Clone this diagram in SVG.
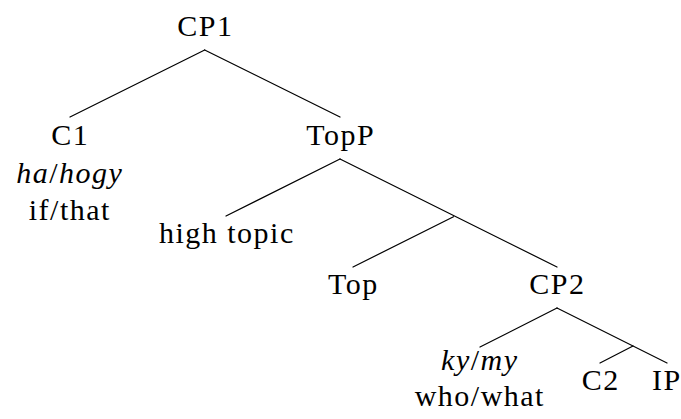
<svg xmlns="http://www.w3.org/2000/svg" width="681" height="419" viewBox="0 0 681 419">
  <style>
    .lbl { font-family: "Liberation Serif", "DejaVu Serif", serif; font-size: 30px; letter-spacing: 1.5px; fill: #000; text-anchor: middle; }
    .it { font-style: italic; }
    .edge { stroke: #000; stroke-width: 1.2; fill: none; stroke-linecap: round; }
  </style>
  <rect width="681" height="419" fill="#fff"/>

  <g id="connectors">
    <!-- CP1 -->
    <line class="edge" x1="204.7" y1="50" x2="70" y2="117"/>
    <line class="edge" x1="204.7" y1="50" x2="340" y2="117"/>
    <!-- TopP -->
    <line class="edge" x1="340" y1="159" x2="226" y2="216"/>
    <line class="edge" x1="340" y1="159" x2="557" y2="267"/>
    <!-- Top' junction -->
    <line class="edge" x1="453.5" y1="216.7" x2="353" y2="267"/>
    <!-- CP2 -->
    <line class="edge" x1="557" y1="308" x2="480" y2="347"/>
    <line class="edge" x1="557" y1="308" x2="667" y2="363"/>
    <!-- C' junction -->
    <line class="edge" x1="633" y1="346" x2="600" y2="363"/>
  </g>

  <g id="node-cp1"><text class="lbl" x="205.3" y="36">CP1</text></g>
  <g id="node-c1">
    <text class="lbl" x="70.3" y="145">C1</text>
    <text class="lbl" x="69.8" y="183"><tspan class="it">ha</tspan>/<tspan class="it">hogy</tspan></text>
    <text class="lbl" x="69.8" y="220">if/that</text>
  </g>
  <g id="node-topp"><text class="lbl" x="340.8" y="145">TopP</text></g>
  <g id="node-hightopic"><text class="lbl" x="226.8" y="243">high topic</text></g>
  <g id="node-top"><text class="lbl" x="353.3" y="294">Top</text></g>
  <g id="node-cp2"><text class="lbl" x="557.3" y="294">CP2</text></g>
  <g id="node-kymy">
    <text class="lbl" x="479.8" y="370"><tspan class="it">ky</tspan>/<tspan class="it">my</tspan></text>
    <text class="lbl" x="479.8" y="406">who/what</text>
  </g>
  <g id="node-c2"><text class="lbl" x="600.8" y="390">C2</text></g>
  <g id="node-ip"><text class="lbl" x="666.8" y="390">IP</text></g>
</svg>
